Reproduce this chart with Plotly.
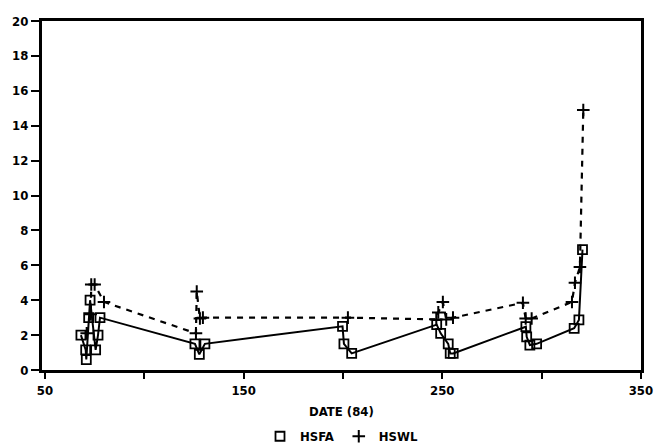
import plotly.graph_objects as go

# HSFA series (date, value)
hsfa_date = [68.1, 70.5, 70.8, 72.0, 72.7, 75.5, 76.7, 77.7,
             125.5, 127.7, 130.5,
             199.8, 200.5, 204.4,
             247.2, 249.2, 253.0, 254.0, 255.5,
             292.1, 292.5, 294.1, 297.5,
             316.4, 318.8, 320.6]
hsfa_val = [2.0, 1.15, 0.6, 3.0, 4.0, 1.15, 2.0, 3.0,
            1.5, 0.9, 1.5,
            2.5, 1.5, 0.95,
            2.6, 2.1, 1.5, 0.95, 0.95,
            2.48, 1.9, 1.43, 1.5,
            2.39, 2.87, 6.9]

# HSWL series (date, value)
hswl_date = [71.0, 73.0, 73.3, 75.0, 79.7,
             126.0, 126.4, 128.0, 129.5,
             202.5,
             247.0, 248.0, 250.3, 252.0, 255.4,
             290.6, 292.0, 295.0,
             315.3, 316.8, 319.3, 321.0]
hswl_val = [2.1, 3.2, 4.9, 4.9, 3.9,
            2.1, 4.5, 2.95, 3.0,
            3.0,
            2.9, 3.3, 3.9, 2.9, 3.0,
            3.85, 2.95, 2.95,
            3.9, 5.0, 5.9, 14.9]

x_ticks = [50, 100, 150, 200, 250, 300, 350]
x_ticktext = ["50", "", "150", "", "250", "", "350"]
y_ticks = [0, 2, 4, 6, 8, 10, 12, 14, 16, 18, 20]

FONT = "DejaVu Sans Condensed, Liberation Sans Narrow, sans-serif"
FS = 13

fig = go.Figure()
fig.add_trace(go.Scatter(
    x=hsfa_date, y=hsfa_val, mode="lines+markers", name="HSFA", showlegend=False,
    line=dict(color="black", width=2),
    marker=dict(symbol="square-open", size=9, color="black", line=dict(width=1.8, color="black")),
))
fig.add_trace(go.Scatter(
    x=hswl_date, y=hswl_val, mode="lines+markers", name="HSWL", showlegend=False,
    line=dict(color="black", width=2.2, dash="6px,6px"),
    marker=dict(symbol="cross-thin", size=9, color="black", line=dict(width=2, color="black")),
))
# legend-only entries (markers only)
fig.add_trace(go.Scatter(
    x=[None], y=[None], mode="markers", name="HSFA",
    marker=dict(symbol="square-open", size=9, color="black", line=dict(width=1.8, color="black")),
))
fig.add_trace(go.Scatter(
    x=[None], y=[None], mode="markers", name="HSWL",
    marker=dict(symbol="cross-thin", size=9, color="black", line=dict(width=2, color="black")),
))

fig.update_layout(
    width=654, height=447,
    margin=dict(l=42, r=13, t=21, b=77, autoexpand=False),
    paper_bgcolor="white", plot_bgcolor="white",
    font=dict(family=FONT, color="black", size=FS, weight="bold"),
    showlegend=True,
    hovermode=False,
    legend=dict(orientation="h", x=0.5, xanchor="center", y=-0.19, yanchor="middle",
                font=dict(family=FONT, size=FS, weight="bold"),
                itemwidth=30, tracegroupgap=0, bgcolor="rgba(0,0,0,0)"),
    xaxis=dict(range=[48.5, 350.05], tickvals=x_ticks, ticktext=x_ticktext,
               ticks="outside", ticklen=6, tickwidth=2, tickcolor="black",
               showline=True, linewidth=3, linecolor="black", mirror=True,
               showgrid=False, zeroline=False, automargin=False,
               ticklabeloverflow="allow",
               tickfont=dict(family=FONT, size=FS, weight="bold")),
    yaxis=dict(range=[0, 20], tickvals=y_ticks,
               ticks="outside", ticklen=8, tickwidth=2, tickcolor="black",
               showline=True, linewidth=3, linecolor="black", mirror=True,
               showgrid=False, zeroline=False, automargin=False,
               ticklabeloverflow="allow",
               tickfont=dict(family=FONT, size=FS, weight="bold")),
    annotations=[dict(text="DATE (84)", x=0.5, y=-0.1175, xref="paper", yref="paper",
                      xanchor="center", yanchor="middle", showarrow=False,
                      font=dict(family=FONT, size=FS, weight="bold"))],
)

fig.write_html("out.html",
               config={"displayModeBar": False},
               post_script="document.body.style.margin='0';document.body.style.overflow='hidden';")
